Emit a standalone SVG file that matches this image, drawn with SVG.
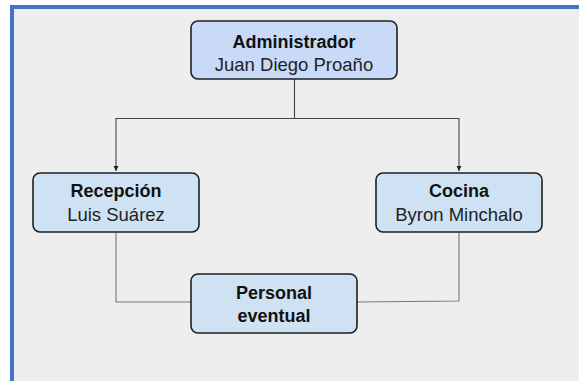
<svg xmlns="http://www.w3.org/2000/svg" width="579" height="381" viewBox="0 0 579 381">
<defs>
<style>
.node rect{fill:#cfe2f3;stroke:#1f1f1f;stroke-width:1.6}
.t{font-family:"Liberation Sans",Arial,sans-serif;font-size:18.5px;fill:#222;text-anchor:middle}
.b{font-weight:bold;font-size:18px;fill:#111}
.c{fill:none;stroke:#444;stroke-width:1.1}
.c2{fill:none;stroke:#777;stroke-width:1.1}
</style>
<marker id="ah" markerWidth="6" markerHeight="6" refX="5" refY="3" orient="auto" markerUnits="userSpaceOnUse">
<path d="M0,0.5 L5,3 L0,5.5 Z" fill="#222"/>
</marker>
</defs>
<rect x="0" y="0" width="579" height="381" fill="#ffffff"/>
<rect x="10" y="5" width="569" height="376" fill="#eeeeee"/>
<rect x="10" y="5" width="569" height="4" fill="#4472c4"/>
<rect x="10" y="5" width="4" height="376" fill="#4472c4"/>
<g id="connectors">
<path class="c" d="M294.5,79 V118.5 M116,118.5 H459"/>
<path class="c" d="M116,118 V171" marker-end="url(#ah)"/>
<path class="c" d="M459,118 V171" marker-end="url(#ah)"/>
<path class="c2" d="M116,233 V302 H191"/>
<path class="c2" d="M459,233 V301 L357,302"/>
</g>
<g id="admin" class="node">
<rect x="191" y="21" width="206" height="58" rx="7" style="fill:#c9daf8"/>
<text class="t b" x="294" y="48">Administrador</text>
<text class="t" x="294" y="71">Juan Diego Proaño</text>
</g>
<g id="recepcion" class="node">
<rect x="33" y="173" width="166" height="59" rx="7"/>
<text class="t b" x="116" y="197">Recepción</text>
<text class="t" x="116" y="221">Luis Suárez</text>
</g>
<g id="cocina" class="node">
<rect x="376" y="173" width="166" height="59" rx="7"/>
<text class="t b" x="459" y="197">Cocina</text>
<text class="t" x="459" y="221">Byron Minchalo</text>
</g>
<g id="personal" class="node">
<rect x="191" y="274" width="166" height="59" rx="7"/>
<text class="t b" x="274" y="299">Personal</text>
<text class="t b" x="274" y="322">eventual</text>
</g>
</svg>
